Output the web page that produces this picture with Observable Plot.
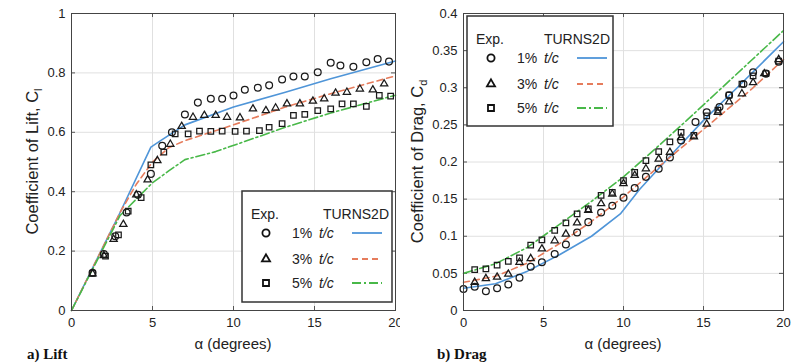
<!DOCTYPE html>
<html>
<head>
<meta charset="utf-8">
<script src="https://cdn.jsdelivr.net/npm/d3@7"></script>
<script src="https://cdn.jsdelivr.net/npm/@observablehq/plot@0.6"></script>
<style>
  body { margin: 0; background: #fff; }
  #wrap { position: relative; width: 800px; height: 364px; overflow: hidden; background: #fff; }
  #wrap svg { position: absolute; top: 0; }
</style>
</head>
<body>
<div id="wrap"></div>
<script>
// ---------- tick values ----------
const alphaTicks = [0, 5, 10, 15, 20];
const liftTicks = [0, 0.2, 0.4, 0.6, 0.8, 1];
const dragTicks = [0, 0.05, 0.1, 0.15, 0.2, 0.25, 0.3, 0.35, 0.4];
const seriesLabels = ["1%", "3%", "5%"];

// ---------- a) Lift : experiment ----------
const liftExp1Alpha = [1.3, 2.0, 2.7, 3.4, 4.1, 4.9, 5.6, 6.2, 7.0, 7.8, 8.6, 9.3, 10.0, 10.7, 11.5, 12.2, 13.0, 13.7, 14.4, 15.2, 16.0, 16.6, 17.4, 18.2, 18.9, 19.6];
const liftExp1C     = [0.127, 0.19, 0.25, 0.33, 0.39, 0.46, 0.555, 0.60, 0.66, 0.70, 0.713, 0.713, 0.724, 0.743, 0.75, 0.758, 0.778, 0.788, 0.788, 0.802, 0.834, 0.825, 0.821, 0.836, 0.847, 0.838];
const liftExp3Alpha = [1.3, 2.0, 2.6, 3.2, 4.0, 4.7, 5.3, 6.1, 6.8, 7.5, 8.2, 8.9, 9.6, 10.4, 11.2, 12.0, 12.6, 13.3, 14.1, 14.9, 15.6, 16.3, 17.0, 17.8, 18.6, 19.3];
const liftExp3C     = [0.124, 0.185, 0.24, 0.29, 0.39, 0.44, 0.505, 0.56, 0.62, 0.651, 0.657, 0.657, 0.651, 0.649, 0.679, 0.673, 0.682, 0.696, 0.696, 0.705, 0.713, 0.732, 0.735, 0.746, 0.743, 0.763];
const liftExp5Alpha = [1.3, 2.1, 2.9, 3.5, 4.3, 4.9, 5.7, 6.4, 7.2, 7.9, 8.6, 9.3, 10.1, 10.8, 11.6, 12.2, 13.0, 13.7, 14.4, 15.2, 16.0, 16.7, 17.4, 18.2, 19.0, 19.7];
const liftExp5C     = [0.125, 0.183, 0.255, 0.335, 0.38, 0.49, 0.533, 0.595, 0.595, 0.604, 0.603, 0.604, 0.603, 0.604, 0.606, 0.617, 0.629, 0.657, 0.66, 0.673, 0.679, 0.696, 0.696, 0.687, 0.724, 0.722];

// ---------- a) Lift : TURNS2D ----------
const liftCfd1Alpha = [0, 3, 4.9, 5.5, 7, 10, 13.2, 16, 20];
const liftCfd1C     = [0, 0.33, 0.55, 0.572, 0.625, 0.685, 0.735, 0.78, 0.84];
const liftCfd3Alpha = [0, 3, 4, 5, 6, 7, 10, 13.2, 16, 20];
const liftCfd3C     = [0, 0.33, 0.425, 0.5, 0.548, 0.572, 0.625, 0.685, 0.73, 0.79];
const liftCfd5Alpha = [0, 3, 4, 5, 6, 7, 8.9, 13.2, 16, 20];
const liftCfd5C     = [0, 0.32, 0.375, 0.43, 0.47, 0.508, 0.535, 0.617, 0.665, 0.725];

// ---------- b) Drag : experiment ----------
const dragExp1Alpha = [0, 0.7, 1.4, 2.1, 2.8, 3.5, 4.2, 4.9, 5.7, 6.4, 7.1, 7.8, 8.6, 9.3, 10.0, 10.7, 11.4, 12.2, 12.9, 13.6, 14.5, 15.2, 16.0, 16.6, 17.5, 18.1, 18.9, 19.7];
const dragExp1C     = [0.029, 0.032, 0.026, 0.030, 0.035, 0.044, 0.059, 0.065, 0.076, 0.089, 0.105, 0.119, 0.132, 0.141, 0.152, 0.165, 0.180, 0.191, 0.206, 0.229, 0.254, 0.267, 0.274, 0.29, 0.305, 0.321, 0.319, 0.335];
const dragExp3Alpha = [0.7, 1.4, 2.1, 2.8, 3.5, 4.2, 4.9, 5.7, 6.4, 7.1, 7.8, 8.6, 9.3, 10.0, 10.7, 11.4, 12.2, 12.9, 13.6, 14.4, 15.2, 15.9, 16.6, 17.4, 18.1, 18.8, 19.7];
const dragExp3C     = [0.038, 0.043, 0.045, 0.049, 0.065, 0.070, 0.083, 0.094, 0.103, 0.118, 0.135, 0.144, 0.157, 0.171, 0.182, 0.191, 0.204, 0.213, 0.233, 0.234, 0.251, 0.267, 0.281, 0.292, 0.307, 0.319, 0.338];
const dragExp5Alpha = [0.7, 1.4, 2.1, 2.8, 3.5, 4.2, 4.9, 5.7, 6.4, 7.1, 7.8, 8.6, 9.3, 10.0, 10.7, 11.4, 12.2, 12.9, 13.6, 14.4, 15.2, 15.9, 16.6, 17.4, 18.1, 18.9, 19.7];
const dragExp5C     = [0.055, 0.056, 0.061, 0.066, 0.071, 0.088, 0.095, 0.108, 0.118, 0.130, 0.137, 0.155, 0.159, 0.175, 0.186, 0.202, 0.214, 0.227, 0.240, 0.236, 0.262, 0.27, 0.29, 0.305, 0.316, 0.319, 0.336];

// ---------- b) Drag : TURNS2D ----------
const dragCfd1Alpha = [0, 2, 4, 6, 8, 9.8, 11, 13, 15, 17, 20];
const dragCfd1C     = [0.03, 0.036, 0.053, 0.075, 0.1, 0.13, 0.163, 0.21, 0.256, 0.298, 0.362];
const dragCfd3Alpha = [0, 2, 4, 6, 8, 10, 12, 14, 16, 18, 20];
const dragCfd3C     = [0.038, 0.046, 0.064, 0.09, 0.12, 0.153, 0.19, 0.226, 0.262, 0.298, 0.338];
const dragCfd5Alpha = [0, 2, 4, 6, 8, 10, 12, 14, 16, 18, 20];
const dragCfd5C     = [0.05, 0.063, 0.085, 0.116, 0.147, 0.18, 0.218, 0.257, 0.297, 0.337, 0.377];

// ---------- styles ----------
const symbols = ["circle", "triangle", "square"];
const symbolR = [3.4, 2.7, 3.1];
const lineColors = ["#4f95d8", "#e67c5c", "#48b848"];
const lineDash = [null, "6,4", "9,3,2,3"];
const sansFont = "'Liberation Sans', Arial, Helvetica, sans-serif";
const serifFont = "'Liberation Serif', 'Times New Roman', serif";

const toRows = (a, v) => a.map((x, i) => ({alpha: x, value: v[i]}));

function panel(o) {
  const W = 400, H = 364, mt = 13, mb = 54;
  const ih = H - mt - mb, iw = W - o.ml - o.mr;
  const exp = o.exp.map(([a, v]) => toRows(a, v));
  const cfd = o.cfd.map(([a, v]) => toRows(a, v));
  const svg = Plot.plot({
    width: W, height: H,
    marginTop: mt, marginBottom: mb, marginLeft: o.ml, marginRight: o.mr,
    x: {domain: [0, 20]},
    y: {domain: o.yDomain},
    style: {fontFamily: sansFont, fontSize: "13px", color: "#222", background: "white", overflow: "visible"},
    marks: [
      Plot.gridX(alphaTicks, {stroke: "#e0e0e0", strokeOpacity: 1}),
      Plot.gridY(o.yTicks, {stroke: "#e0e0e0", strokeOpacity: 1}),
      Plot.tickX(alphaTicks, {insetTop: ih - 4, stroke: "#555"}),
      Plot.tickX(alphaTicks, {insetBottom: ih - 4, stroke: "#555"}),
      Plot.tickY(o.yTicks, {insetLeft: iw - 4, stroke: "#555"}),
      Plot.tickY(o.yTicks, {insetRight: iw - 4, stroke: "#555"}),
      Plot.axisX(alphaTicks, {tickSize: 0, tickPadding: 7, tickFormat: d => String(d), label: null}),
      Plot.axisY(o.yTicks, {tickSize: 0, tickPadding: 6, tickFormat: d => String(d), label: null}),
      ...cfd.map((s, i) => Plot.line(s, {x: "alpha", y: "value", stroke: lineColors[i], strokeWidth: 1.6, strokeDasharray: lineDash[i]})),
      ...exp.map((s, i) => Plot.dot(s, {x: "alpha", y: "value", symbol: symbols[i], r: symbolR[i], stroke: "#1a1a1a", strokeWidth: 1.25, fill: "none"})),
      Plot.frame({stroke: "#444"})
    ]
  });
  svg.style.left = o.left + "px";
  const s = d3.select(svg);

  // axis titles
  s.append("text").attr("x", o.ml + iw / 2).attr("y", 349).attr("text-anchor", "middle")
    .attr("font-family", sansFont).attr("font-size", 15).attr("fill", "#222").text("\u03b1 (degrees)");
  const yl = s.append("text").attr("transform", `translate(${o.ylx},${mt + ih / 2}) rotate(-90)`)
    .attr("text-anchor", "middle").attr("font-family", sansFont).attr("font-size", 16.5).attr("fill", "#222");
  yl.append("tspan").text(o.yTitle);
  yl.append("tspan").attr("font-size", 11).attr("dy", 4).text(o.ySub);

  // panel caption
  s.append("text").attr("x", o.capX).attr("y", 359).attr("text-anchor", "start").attr("font-family", serifFont)
    .attr("font-weight", "bold").attr("font-size", 15).attr("fill", "#111").text(o.caption);

  // legend
  const L = o.legend;
  const g = s.append("g").attr("font-family", sansFont).attr("font-size", 14).attr("fill", "#222").attr("text-anchor", "start");
  g.append("rect").attr("x", L.x).attr("y", L.y).attr("width", L.w).attr("height", L.h)
    .attr("fill", "white").attr("stroke", "#333").attr("stroke-width", 1.5);
  g.append("text").attr("x", L.x + 9).attr("y", L.y + 28).text("Exp.");
  g.append("text").attr("x", L.x + L.w - 3).attr("y", L.y + 28).attr("text-anchor", "end").text("TURNS2D");
  const rowDy = [42, 68, 92];
  const symFns = [d3.symbolCircle, d3.symbolTriangle, d3.symbolSquare];
  const legR = [3.6, 3.0, 3.4];
  seriesLabels.forEach((lab, i) => {
    const cy = L.y + rowDy[i];
    g.append("path").attr("d", d3.symbol(symFns[i], Math.PI * legR[i] * legR[i])())
      .attr("transform", `translate(${L.x + 24},${cy})`)
      .attr("fill", "none").attr("stroke", "#111").attr("stroke-width", 1.8);
    g.append("text").attr("x", L.x + 50).attr("y", cy + 5).text(lab);
    g.append("text").attr("x", L.x + 77).attr("y", cy + 5).attr("font-style", "italic").text("t/c");
    g.append("line").attr("x1", L.x + 110).attr("x2", L.x + 140).attr("y1", cy).attr("y2", cy)
      .attr("stroke", lineColors[i]).attr("stroke-width", 1.8).attr("stroke-dasharray", lineDash[i]);
  });
  return svg;
}

const wrap = document.getElementById("wrap");
wrap.appendChild(panel({
  left: 0, ml: 71, mr: 5, yDomain: [0, 1], yTicks: liftTicks,
  exp: [[liftExp1Alpha, liftExp1C], [liftExp3Alpha, liftExp3C], [liftExp5Alpha, liftExp5C]],
  cfd: [[liftCfd1Alpha, liftCfd1C], [liftCfd3Alpha, liftCfd3C], [liftCfd5Alpha, liftCfd5C]],
  yTitle: "Coefficient of Lift, C", ySub: "l", ylx: 38,
  caption: "a) Lift", capX: 27,
  legend: {x: 242, y: 191, w: 150, h: 111}
}));
wrap.appendChild(panel({
  left: 400, ml: 63, mr: 17, yDomain: [0, 0.4], yTicks: dragTicks,
  exp: [[dragExp1Alpha, dragExp1C], [dragExp3Alpha, dragExp3C], [dragExp5Alpha, dragExp5C]],
  cfd: [[dragCfd1Alpha, dragCfd1C], [dragCfd3Alpha, dragCfd3C], [dragCfd5Alpha, dragCfd5C]],
  yTitle: "Coefficient of Drag, C", ySub: "d", ylx: 23,
  caption: "b) Drag", capX: 37,
  legend: {x: 67, y: 16, w: 146, h: 110}
}));
</script>
</body>
</html>
